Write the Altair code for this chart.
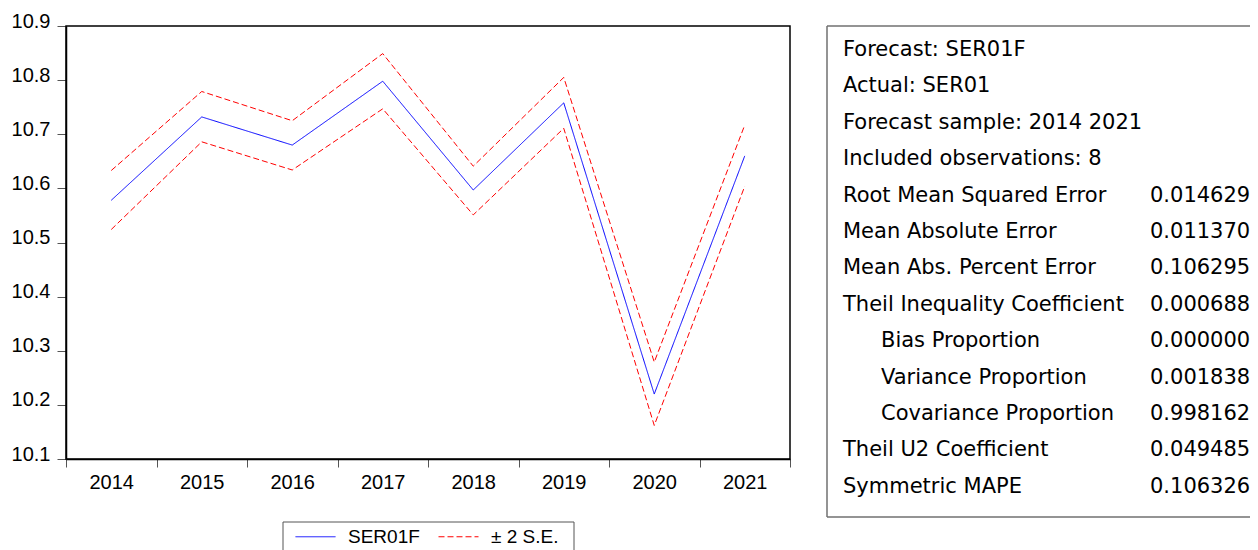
import altair as alt
import pandas as pd

# ---------------- data ----------------
years = ["2014", "2015", "2016", "2017", "2018", "2019", "2020", "2021"]
forecast = [10.578, 10.732, 10.680, 10.798, 10.597, 10.758, 10.220, 10.660]
upper = [10.633, 10.779, 10.725, 10.849, 10.641, 10.805, 10.279, 10.717]
lower = [10.524, 10.686, 10.634, 10.747, 10.551, 10.711, 10.162, 10.604]
y_ticks = [10.1, 10.2, 10.3, 10.4, 10.5, 10.6, 10.7, 10.8, 10.9]
series_names = ["SER01F", "± 2 S.E."]

stat_labels = [
    "Forecast: SER01F",
    "Actual: SER01",
    "Forecast sample: 2014 2021",
    "Included observations: 8",
    "Root Mean Squared Error",
    "Mean Absolute Error",
    "Mean Abs. Percent Error",
    "Theil Inequality Coefficient",
    "Bias Proportion",
    "Variance Proportion",
    "Covariance Proportion",
    "Theil U2 Coefficient",
    "Symmetric MAPE",
]
stat_values = ["", "", "", "", "0.014629", "0.011370", "0.106295", "0.000688",
               "0.000000", "0.001838", "0.998162", "0.049485", "0.106326"]
stat_indent = [0, 0, 0, 0, 0, 0, 0, 0, 1, 1, 1, 0, 0]

# ---------------- tables ----------------
rows = []
for line_id, series, vals in [("SER01F", series_names[0], forecast),
                              ("upper", series_names[1], upper),
                              ("lower", series_names[1], lower)]:
    for yr, v in zip(years, vals):
        rows.append({"year": yr, "value": v, "line": line_id, "series": series})
df = pd.DataFrame(rows)

stats_df = pd.DataFrame({
    "row": list(range(len(stat_labels))),
    "label": stat_labels,
    "value": stat_values,
    "indent": stat_indent,
})
dummy = pd.DataFrame({"k": [0]})

# plot area (pixels) and layout; total SVG kept at 1242 px so the page does not rescale it
W, H = 724, 433
PAD_L, PAD_T = 58, 18
PAD_R = 1242 - PAD_L - W
PAD_B = 542 - PAD_T - H
BOX_X, BOX_H = 761, 491
AXIS_FONT = "Liberation Sans"
STAT_FONT = "DejaVu Sans"

legend_cfg = alt.Legend(
    title=None, orient="none", legendX=229, legendY=490, direction="horizontal",
    padding=0,
    symbolType="stroke", symbolSize=1600, symbolStrokeWidth=1,
    labelFont=AXIS_FONT, labelFontSize=19, labelColor="black",
    labelOffset=12, columnPadding=16,
)

lines = alt.Chart(df).mark_line(strokeWidth=1).encode(
    x=alt.X("year:O", title=None, bandPosition=0.5,
            scale=alt.Scale(type="band", paddingInner=0, paddingOuter=0),
            axis=alt.Axis(orient="bottom", labelAngle=0, tickBand="extent", tickSize=8,
                          labelPadding=5,
                          labelFont=AXIS_FONT, labelFontSize=20, labelColor="black",
                          domainColor="black", domainWidth=1.5, tickColor="#555555",
                          grid=False)),
    y=alt.Y("value:Q", title=None,
            scale=alt.Scale(domain=[10.1, 10.9], nice=False, zero=False),
            axis=alt.Axis(orient="left", values=y_ticks, format=".1f", tickSize=9,
                          labelPadding=7, labelBaseline="alphabetic", labelOffset=1,
                          labelFont=AXIS_FONT, labelFontSize=20, labelColor="black",
                          domainColor="black", domainWidth=1.5, tickColor="#555555",
                          grid=False)),
    color=alt.Color("series:N",
                    scale=alt.Scale(domain=series_names, range=["#0000ff", "#ff0000"]),
                    legend=legend_cfg),
    strokeDash=alt.StrokeDash("series:N",
                              scale=alt.Scale(domain=series_names, range=[[1, 0], [6, 3]]),
                              legend=legend_cfg),
    detail="line:N",
)

frame = alt.Chart(dummy).mark_rect(filled=False, stroke="black", strokeWidth=1.5).encode(
    x=alt.value(0), x2=alt.value(W), y=alt.value(0), y2=alt.value(H)
)

legend_box = alt.Chart(dummy).mark_rect(filled=False, stroke="#555555", strokeWidth=1).encode(
    x=alt.value(217), x2=alt.value(508), y=alt.value(496), y2=alt.value(540)
)

box_left = alt.Chart(dummy).mark_rule(color="#707070", strokeWidth=1.5).encode(
    x=alt.value(BOX_X), y=alt.value(0), y2=alt.value(BOX_H))
box_top = alt.Chart(dummy).mark_rule(color="#707070", strokeWidth=1.5).encode(
    x=alt.value(BOX_X), x2=alt.value(BOX_X + 460), y=alt.value(0))
box_bottom = alt.Chart(dummy).mark_rule(color="#707070", strokeWidth=1.5).encode(
    x=alt.value(BOX_X), x2=alt.value(BOX_X + 460), y=alt.value(BOX_H))

ycode = alt.Y("row:Q", axis=None, scale=alt.Scale(domain=[0, 12], range=[24, 460.7]))
stat_text = alt.Chart(stats_df).mark_text(
    align="left", baseline="middle", font=STAT_FONT, fontSize=21, color="black"
).encode(
    x=alt.X("indent:Q", axis=None,
            scale=alt.Scale(domain=[0, 1], range=[BOX_X + 16, BOX_X + 54])),
    y=ycode,
    text="label:N",
)
stat_vals = alt.Chart(stats_df).mark_text(
    align="left", baseline="middle", font=STAT_FONT, fontSize=21, color="black"
).encode(
    x=alt.value(BOX_X + 323),
    y=ycode,
    text="value:N",
)

chart = alt.layer(
    frame, lines, legend_box, box_left, box_top, box_bottom, stat_text, stat_vals
).resolve_scale(
    x="independent", y="independent"
).resolve_legend(
    color="independent", strokeDash="independent"
).properties(
    width=W, height=H,
    autosize=alt.AutoSizeParams(type="none"),
    padding={"left": PAD_L, "top": PAD_T, "right": PAD_R, "bottom": PAD_B},
).configure_view(stroke=None)

chart.save("out.html", embed_options={"renderer": "svg", "actions": False})
